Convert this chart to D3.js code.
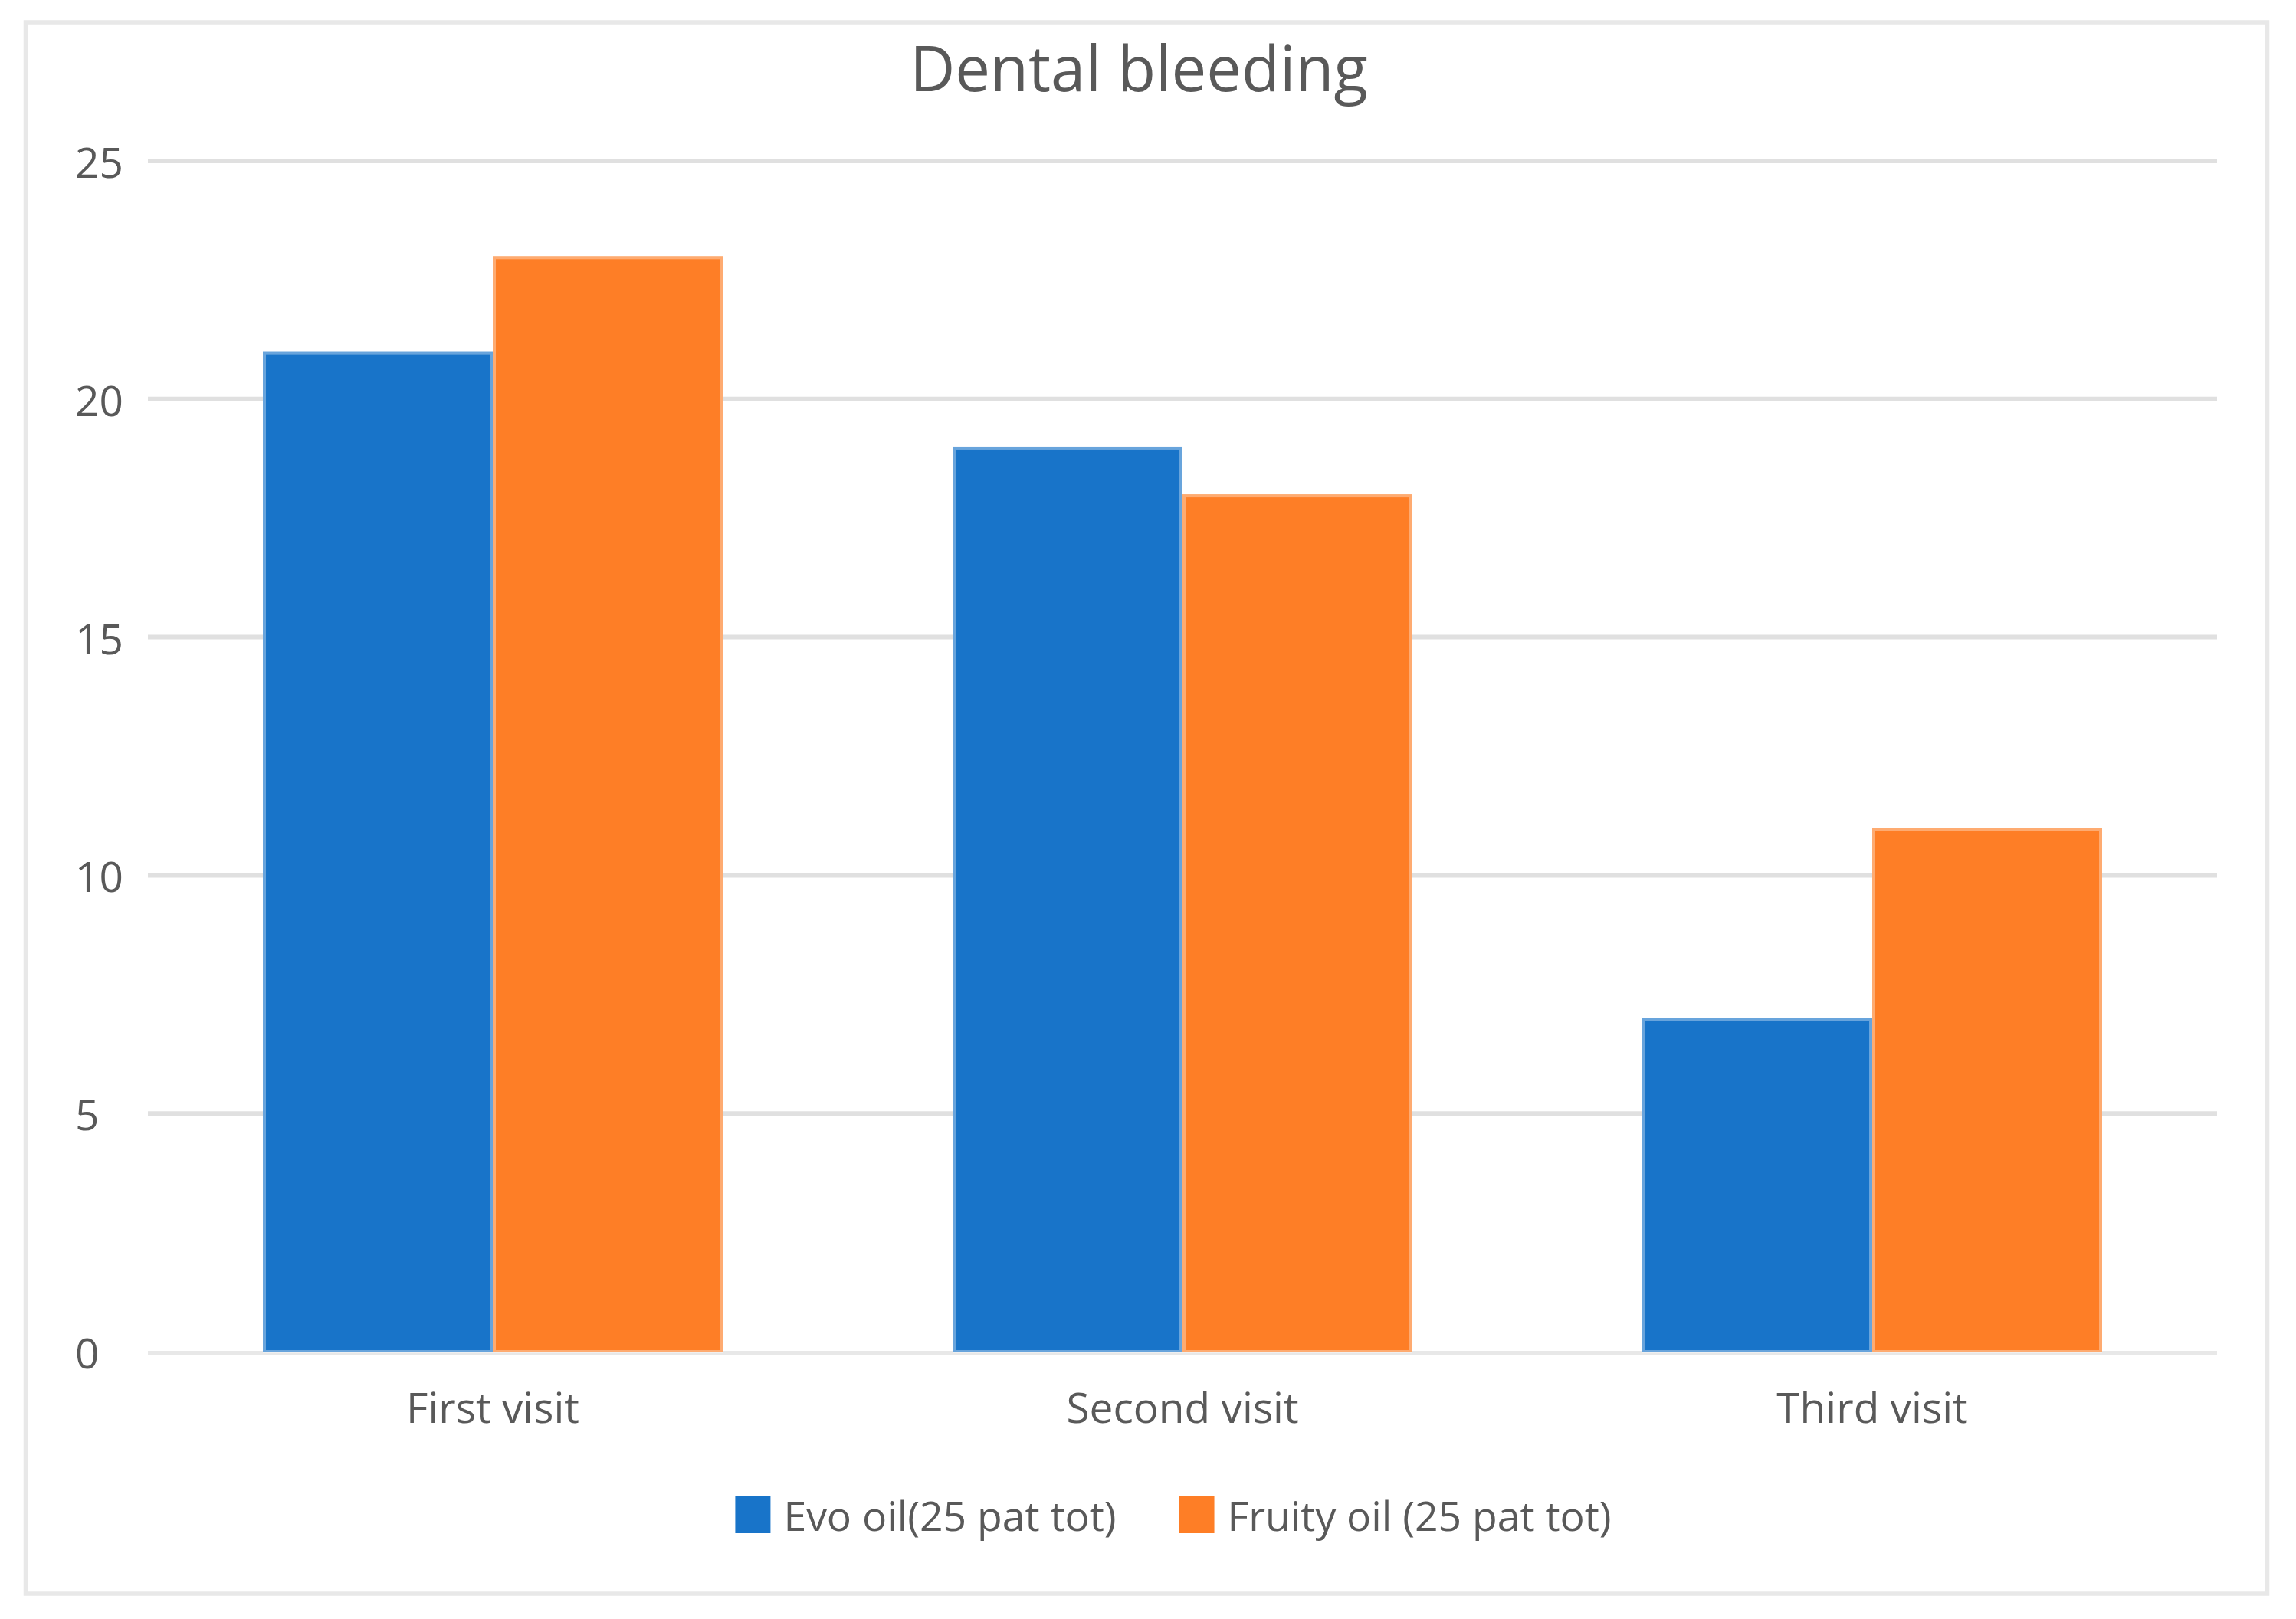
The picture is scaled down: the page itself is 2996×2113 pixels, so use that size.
<!DOCTYPE html>
<html>
<head>
<meta charset="utf-8">
<script src="https://cdn.jsdelivr.net/npm/d3@7"></script>
<style>
  html, body { margin: 0; padding: 0; background: #ffffff; }
  svg { display: block; }
  text { font-family: "Segoe UI", "Open Sans", "Noto Sans", sans-serif; fill: #595959; }
</style>
</head>
<body>
<svg id="chart" width="2996" height="2113"></svg>
<script>
// ---- data ----
const title = "Dental bleeding";
const categories = ["First visit", "Second visit", "Third visit"];
const seriesNames = ["Evo oil(25 pat tot)", "Fruity oil (25 pat tot)"];
const evoValues = [21, 19, 7];
const fruityValues = [23, 18, 11];
const yTicks = [0, 5, 10, 15, 20, 25];
const seriesColors = ["#1874c9", "#fe7e26"];

const seriesValues = [evoValues, fruityValues];
const rows = categories.map((c, i) => ({
  category: c,
  values: seriesNames.map((s, j) => ({ series: s, idx: j, value: seriesValues[j][i] }))
}));

// ---- layout ----
const plot = { left: 193, right: 2893, top: 210, bottom: 1764 };

const svg = d3.select("#chart");

// outer border
svg.append("rect")
  .attr("x", 33.5).attr("y", 29)
  .attr("width", 2958.5 - 33.5).attr("height", 2080 - 29)
  .attr("fill", "#ffffff")
  .attr("stroke", "#e8e8e8")
  .attr("stroke-width", 5.5);

// scales
const x0 = d3.scaleBand()
  .domain(categories)
  .range([plot.left, plot.right])
  .paddingInner(1 / 3)
  .paddingOuter(1 / 6);

const x1 = d3.scaleBand()
  .domain(seriesNames)
  .range([0, x0.bandwidth()])
  .padding(0);

const y = d3.scaleLinear()
  .domain([0, 25])
  .range([plot.bottom, plot.top]);

const color = d3.scaleOrdinal().domain(seriesNames).range(seriesColors);

// gridlines
svg.append("g")
  .selectAll("line")
  .data(yTicks)
  .join("line")
  .attr("x1", plot.left)
  .attr("x2", plot.right)
  .attr("y1", d => y(d) + (d === 0 ? 2 : 0))
  .attr("y2", d => y(d) + (d === 0 ? 2 : 0))
  .attr("stroke", d => d === 0 ? "#e8e8e8" : "#e0e0e0")
  .attr("stroke-width", 6);

// y tick labels (left aligned as in reference)
svg.append("g")
  .selectAll("text")
  .data(yTicks)
  .join("text")
  .attr("x", 98)
  .attr("y", d => y(d) + 22)
  .attr("text-anchor", "start")
  .attr("font-size", 55)
  .text(d => d);

// bars
const groups = svg.append("g")
  .selectAll("g")
  .data(rows)
  .join("g")
  .attr("transform", d => `translate(${x0(d.category)},0)`);

groups.selectAll("rect.bar")
  .data(d => d.values)
  .join("rect")
  .attr("class", "bar")
  .attr("x", d => x1(d.series))
  .attr("y", d => y(d.value))
  .attr("width", x1.bandwidth())
  .attr("height", d => y(0) - y(d.value))
  .attr("fill", d => color(d.series));

// light edge highlight (inset stroke)
groups.selectAll("rect.edge")
  .data(d => d.values)
  .join("rect")
  .attr("class", "edge")
  .attr("x", d => x1(d.series) + 2)
  .attr("y", d => y(d.value) + 2)
  .attr("width", x1.bandwidth() - 4)
  .attr("height", d => y(0) - y(d.value) - 2)
  .attr("fill", "none")
  .attr("stroke", "rgba(255,255,255,0.35)")
  .attr("stroke-width", 4);

// category labels
svg.append("g")
  .selectAll("text")
  .data(categories)
  .join("text")
  .attr("x", d => x0(d) + x0.bandwidth() / 2)
  .attr("y", 1857)
  .attr("text-anchor", "middle")
  .attr("font-size", 55)
  .text(d => d);

// title
svg.append("text")
  .attr("x", 1486)
  .attr("y", 119)
  .attr("text-anchor", "middle")
  .attr("font-size", 81.5)
  .text(title);

// legend
const legend = svg.append("g");
const sw = 46, gapText = 17, gapItem = 82;
const items = legend.selectAll("g")
  .data(seriesNames)
  .join("g");
items.append("rect")
  .attr("width", sw).attr("height", 48)
  .attr("y", 1953)
  .attr("fill", d => color(d));
items.append("text")
  .attr("x", sw + gapText)
  .attr("y", 1998)
  .attr("font-size", 53.5)
  .text(d => d);
const widths = [];
items.each(function () {
  const tw = d3.select(this).select("text").node().getComputedTextLength();
  widths.push(sw + gapText + tw);
});
const total = d3.sum(widths) + gapItem * (widths.length - 1);
let start = 1531 - total / 2;
items.attr("transform", (d, i) => {
  const t = `translate(${start},0)`;
  start += widths[i] + gapItem;
  return t;
});
</script>
</body>
</html>
